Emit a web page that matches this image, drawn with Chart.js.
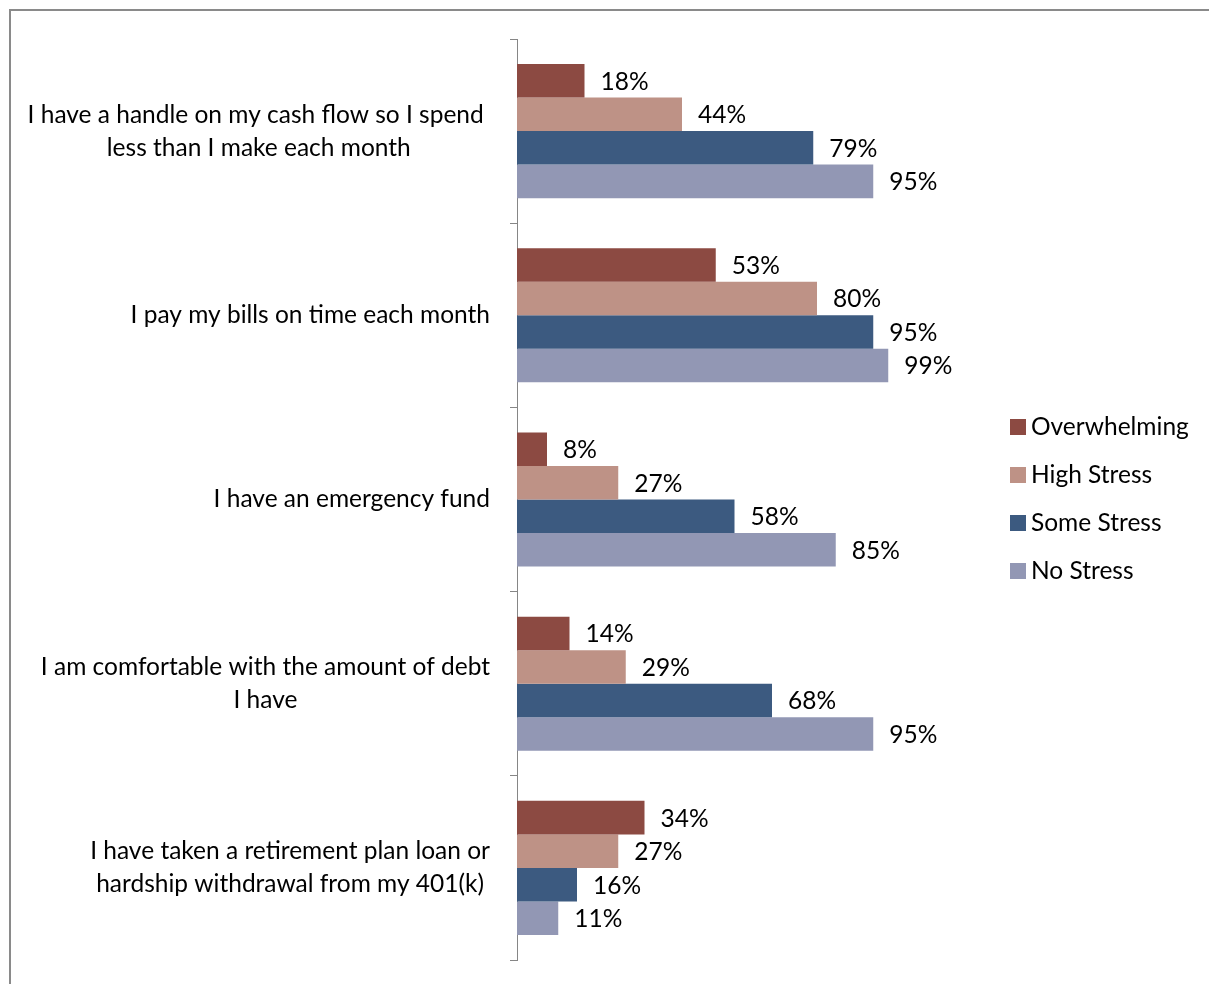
<!DOCTYPE html>
<html>
<head>
<meta charset="utf-8">
<script src="https://cdn.jsdelivr.net/npm/chart.js@4/dist/chart.umd.min.js"></script>
<style>
  html, body { margin: 0; padding: 0; background: #fff; overflow: hidden; }
  #wrap { position: relative; width: 1209px; height: 984px; }
  #frame { position: absolute; left: 9px; top: 9px; width: 1300px; height: 1100px; border: 2px solid #8a8a8a; pointer-events: none; }
  canvas { display: block; }
</style>
</head>
<body>
<div id="wrap">
  <canvas id="chart" width="1209" height="984"></canvas>
  <div id="frame"></div>
</div>
<script>
// ── Data ──────────────────────────────────────────────────────
const categories = [
  ['I have a handle on my cash flow so I spend ', 'less than I make each month'],
  ['I pay my bills on time each month'],
  ['I have an emergency fund'],
  ['I am comfortable with the amount of debt', 'I have'],
  ['I have taken a retirement plan loan or', 'hardship withdrawal from my 401(k)']
];
const seriesNames = ['Overwhelming', 'High Stress', 'Some Stress', 'No Stress'];
const seriesColors = ['#8C4A42', '#BE9286', '#3C5A80', '#9297B4'];
const overwhelming = [18, 53, 8, 14, 34];
const highStress   = [44, 80, 27, 29, 27];
const someStress   = [79, 95, 58, 68, 16];
const noStress     = [95, 99, 85, 95, 11];

const FONT = 'Lato, Carlito, Calibri, "Open Sans", sans-serif';
const FONT_SIZE = 24.5;

// ── Plugins ───────────────────────────────────────────────────
const categoryLabels = {
  id: 'categoryLabels',
  afterDraw(chart) {
    const { ctx } = chart;
    const y = chart.scales.y;
    const right = 490, lineH = 33;
    ctx.save();
    ctx.font = `${FONT_SIZE}px ${FONT}`;
    ctx.fillStyle = '#000';
    ctx.textAlign = 'center';
    ctx.textBaseline = 'middle';
    categories.forEach((lines, i) => {
      const widest = Math.max(...lines.map(l => ctx.measureText(l).width));
      const cx = right - widest / 2;
      const cy = y.getPixelForTick(i);
      lines.forEach((l, j) => {
        ctx.fillText(l, cx, cy + (j - (lines.length - 1) / 2) * lineH);
      });
    });
    ctx.restore();
  }
};

const valueLabels = {
  id: 'valueLabels',
  afterDatasetsDraw(chart) {
    const { ctx } = chart;
    ctx.save();
    ctx.font = `${FONT_SIZE}px ${FONT}`;
    ctx.fillStyle = '#000';
    ctx.textAlign = 'left';
    ctx.textBaseline = 'middle';
    chart.data.datasets.forEach((ds, di) => {
      chart.getDatasetMeta(di).data.forEach((bar, i) => {
        ctx.fillText(ds.data[i] + '%', bar.x + 16, bar.y + 1);
      });
    });
    ctx.restore();
  }
};

const sideLegend = {
  id: 'sideLegend',
  afterDraw(chart) {
    const { ctx } = chart;
    const x = 1010, top = 427, step = 48, box = 16;
    ctx.save();
    ctx.font = `${FONT_SIZE}px ${FONT}`;
    ctx.textAlign = 'left';
    ctx.textBaseline = 'middle';
    chart.data.datasets.forEach((ds, i) => {
      const cy = top + i * step;
      ctx.fillStyle = ds.backgroundColor;
      ctx.fillRect(x, cy - box / 2, box, box);
      ctx.fillStyle = '#000';
      ctx.fillText(ds.label, x + box + 5, cy);
    });
    ctx.restore();
  }
};

// ── Chart ─────────────────────────────────────────────────────
const seriesData = [overwhelming, highStress, someStress, noStress];

new Chart(document.getElementById('chart'), {
  type: 'bar',
  data: {
    labels: categories,
    datasets: seriesNames.map((name, i) => ({
      label: name,
      data: seriesData[i],
      backgroundColor: seriesColors[i],
      borderWidth: 0,
      categoryPercentage: 0.728,
      barPercentage: 1
    }))
  },
  options: {
    indexAxis: 'y',
    responsive: false,
    animation: false,
    layout: { padding: { left: 510, right: 242, top: 39, bottom: 24 } },
    plugins: { legend: { display: false }, tooltip: { enabled: false } },
    scales: {
      x: { display: false, min: 0, max: 120 },
      y: {
        ticks: { display: false },
        grid: { drawOnChartArea: false, tickLength: 7, color: '#868686', offset: true },
        border: { color: '#868686', width: 1 }
      }
    }
  },
  plugins: [categoryLabels, valueLabels, sideLegend]
});
</script>
</body>
</html>
